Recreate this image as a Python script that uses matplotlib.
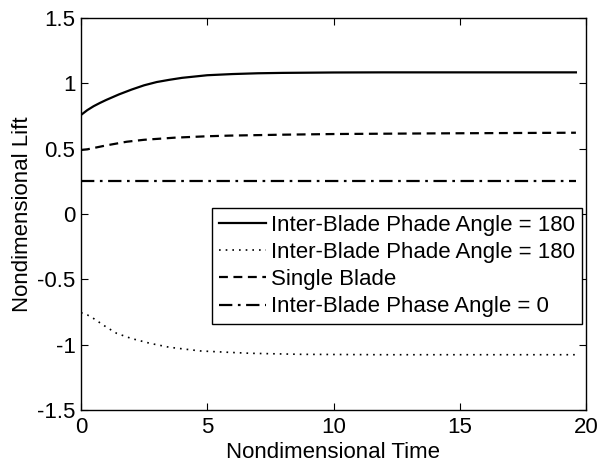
import matplotlib
matplotlib.use("Agg")
import matplotlib.pyplot as plt

plt.rcParams['font.family'] = ['Liberation Sans', 'DejaVu Sans']
plt.rcParams['axes.unicode_minus'] = False

# Data
t_solid = [0, 0.25, 0.5, 0.75, 1.0, 1.5, 2.0, 2.5, 3.0, 3.5, 4.0, 5.0, 6.0, 7.0, 8.0, 10, 12, 14, 16, 19.6]
lift_solid = [0.758, 0.795, 0.825, 0.850, 0.873, 0.915, 0.952, 0.985, 1.010, 1.027, 1.042, 1.062, 1.071, 1.077, 1.080,
              1.083, 1.084, 1.084, 1.084, 1.084]

t_dotted = [0, 0.25, 0.5, 1.0, 1.41, 2.0, 2.74, 3.5, 4.72, 6.0, 6.7, 8.7, 12, 16, 19.6]
lift_dotted = [-0.755, -0.772, -0.80, -0.865, -0.913, -0.953, -0.99, -1.02, -1.048, -1.06, -1.066, -1.074,
               -1.077, -1.077, -1.077]

t_dashed = [0, 0.25, 0.5, 1.0, 1.81, 2.5, 3.7, 5.0, 5.9, 8.0, 10, 14, 19.6]
lift_dashed = [0.49, 0.495, 0.505, 0.525, 0.553, 0.568, 0.584, 0.595, 0.60, 0.607, 0.612, 0.617, 0.622]

t_dashdot = [0, 19.6]
lift_dashdot = [0.25, 0.25]

labels = ["Inter-Blade Phade Angle = 180", "Inter-Blade Phade Angle = 180",
          "Single Blade", "Inter-Blade Phase Angle = 0"]
xticks = [0, 5, 10, 15, 20]
yticks = [-1.5, -1, -0.5, 0, 0.5, 1, 1.5]
yticklabels = ["-1.5", "-1", "-0.5", "0", "0.5", "1", "1.5"]

FS = 16

fig = plt.figure(figsize=(6.01, 4.69), dpi=100)
ax = fig.add_axes([81/601, (469-410)/469, (586-81)/601, (410-18)/469])

ax.plot(t_solid, lift_solid, color='black', lw=1.6, ls='-', label=labels[0])
ax.plot(t_dotted, lift_dotted, color='black', lw=1.2, ls=(0, (1, 3)), label=labels[1])
ax.plot(t_dashed, lift_dashed, color='black', lw=1.6, ls=(0, (4, 2.5)), label=labels[2])
ax.plot(t_dashdot, lift_dashdot, color='black', lw=1.6, ls=(0, (6, 2.5, 1.2, 2.5)), label=labels[3])

ax.set_xlim(0, 20)
ax.set_ylim(-1.5, 1.5)
ax.set_xticks(xticks)
ax.set_xticklabels([str(v) for v in xticks])
ax.set_yticks(yticks)
ax.set_yticklabels(yticklabels)
ax.tick_params(direction='in', top=True, right=True, length=5, width=0.8, labelsize=FS)
ax.tick_params(axis='x', pad=5)
ax.tick_params(axis='y', pad=4)
for s in ax.spines.values():
    s.set_linewidth(1.0)

ax.set_xlabel("Nondimensional Time", fontsize=FS, labelpad=3)
ax.set_ylabel("Nondimensional Lift", fontsize=FS, labelpad=3)

leg = ax.legend(loc='upper right', bbox_to_anchor=(0.992, 0.515), borderaxespad=0,
                fontsize=FS, frameon=True, fancybox=False, framealpha=1, edgecolor='black',
                handlelength=2.1, handletextpad=0.25, labelspacing=0.28, borderpad=0.3)
leg.get_frame().set_linewidth(1.0)

fig.savefig("out.png", dpi=100)
